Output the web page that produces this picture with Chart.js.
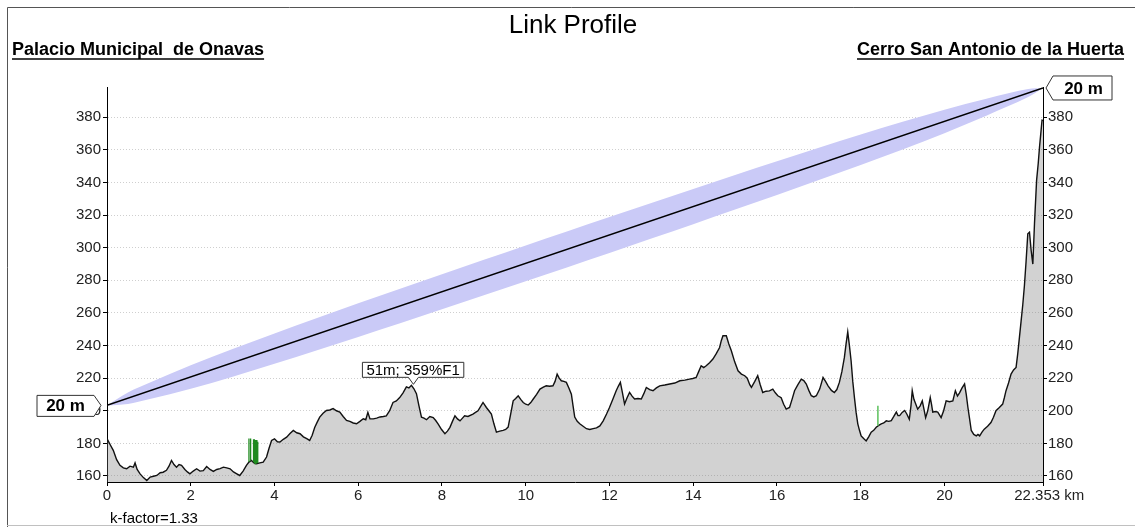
<!DOCTYPE html>
<html><head><meta charset="utf-8">
<script src="https://cdn.jsdelivr.net/npm/chart.js@4.4.1/dist/chart.umd.min.js"></script>
<style>html,body{margin:0;padding:0;background:#fff;overflow:hidden}#wrap{position:relative;width:1135px;height:527px}</style>
</head><body><div id="wrap"><canvas id="c" width="1135" height="527"></canvas></div>
<script>
const titleText = 'Link Profile';
const siteA = 'Palacio Municipal  de Onavas';
const siteB = 'Cerro San Antonio de la Huerta';
const kFactorText = 'k-factor=1.33';
const totalKm = 22.353;
const xTicks = [0, 2, 4, 6, 8, 10, 12, 14, 16, 18, 20, 22.353];
const yTicks = [160, 180, 200, 220, 240, 260, 280, 300, 320, 340, 360, 380];
const yMin = 156.3, yMax = 398.6;

const profileKm = [0,0.08,0.15,0.23,0.31,0.39,0.47,0.55,0.63,0.67,0.72,0.79,0.87,0.95,1.03,1.11,1.19,1.27,1.34,1.42,1.48,1.54,1.60,1.66,1.72,1.78,1.86,1.92,1.98,2.06,2.14,2.22,2.30,2.38,2.46,2.54,2.62,2.70,2.78,2.86,2.94,3.02,3.10,3.17,3.25,3.33,3.39,3.45,3.51,3.57,3.65,3.73,3.81,3.87,3.93,4.0,4.07,4.13,4.21,4.29,4.37,4.45,4.53,4.61,4.69,4.77,4.84,4.90,4.96,5.02,5.08,5.16,5.24,5.32,5.40,5.48,5.56,5.64,5.72,5.80,5.88,5.96,6.04,6.12,6.18,6.23,6.28,6.36,6.44,6.52,6.60,6.67,6.75,6.83,6.91,6.99,7.07,7.15,7.21,7.27,7.33,7.39,7.45,7.51,7.57,7.63,7.71,7.79,7.85,7.91,7.99,8.07,8.13,8.19,8.25,8.31,8.37,8.43,8.49,8.54,8.62,8.74,8.80,8.86,8.92,8.98,9.06,9.12,9.18,9.24,9.30,9.38,9.46,9.52,9.58,9.64,9.70,9.76,9.82,9.88,9.94,10.0,10.06,10.12,10.18,10.26,10.34,10.42,10.49,10.57,10.65,10.70,10.75,10.80,10.85,10.91,10.97,11.03,11.09,11.13,11.17,11.23,11.29,11.37,11.45,11.53,11.61,11.69,11.77,11.85,11.93,12.0,12.08,12.16,12.21,12.26,12.31,12.36,12.42,12.48,12.54,12.60,12.68,12.76,12.82,12.88,12.96,13.04,13.12,13.20,13.32,13.44,13.56,13.68,13.80,13.91,13.99,14.07,14.13,14.19,14.25,14.31,14.39,14.47,14.55,14.63,14.67,14.71,14.79,14.85,14.91,14.99,15.07,15.15,15.23,15.29,15.35,15.39,15.47,15.54,15.60,15.66,15.74,15.82,15.90,15.96,16.02,16.10,16.16,16.22,16.30,16.36,16.42,16.50,16.58,16.64,16.70,16.76,16.82,16.88,16.94,17.02,17.10,17.16,17.22,17.30,17.37,17.43,17.49,17.55,17.61,17.65,17.69,17.73,17.77,17.81,17.85,17.89,17.93,17.97,18.01,18.07,18.13,18.19,18.25,18.31,18.37,18.43,18.49,18.55,18.61,18.67,18.73,18.79,18.85,18.89,18.93,18.99,19.05,19.10,19.16,19.20,19.23,19.27,19.30,19.36,19.42,19.47,19.51,19.55,19.60,19.66,19.69,19.72,19.78,19.84,19.92,19.98,20.04,20.12,20.20,20.26,20.31,20.36,20.42,20.48,20.52,20.56,20.60,20.64,20.70,20.76,20.80,20.84,20.90,20.95,21.03,21.11,21.17,21.23,21.31,21.39,21.43,21.47,21.53,21.59,21.65,21.71,21.75,21.79,21.83,21.87,21.91,21.95,21.99,22.03,22.07,22.11,22.15,22.20,22.24,22.27,22.30,22.33,22.353];
const profileM = [182.9,179,175.7,170,166.5,165,164.4,166,165.4,168,164,161.3,159,157.2,159.3,159.8,160.3,162,162.3,163.5,166,169.5,167,165.4,167,166.5,164,162.5,161.3,163,164.4,163,163.3,165.8,164,162.8,164,164.5,165.4,165,164.4,162.5,161.3,160.3,163,166.5,168.5,169.5,168,167.5,168,168.5,171.6,177,181.8,182.8,181,180.8,182.5,183.8,186,187.9,186.5,185.9,184,182.9,181.8,185,189.7,193,196.1,198.5,200.2,200.5,201.3,200,199.2,196.5,194.1,193.5,192.5,192.0,193.5,195.1,194.5,199,195,195,195.5,196.2,196.5,196.9,200,205.1,206,208.1,211,214.6,214,215.6,213.5,210.5,203,196.1,195.5,194.5,196.5,195.8,194,191.8,188.5,185.9,187.5,189.8,193.5,196.9,195,193.8,195.5,196.9,196.5,198,199,200,202.5,205.1,202,200,198,192,186.9,187.5,188,188.5,190,198,206.1,207.5,209.2,207,205.1,204,203.5,205,207.2,210,213.3,214.5,215.3,215,215.3,218,222.5,220,218.4,218,217.4,214,210.2,203,196.1,193.5,192,190.5,189,188.5,189,189.5,190.7,193.8,198,202,207,212.3,215,217.4,211,204.1,208,211.3,209,207.2,207.5,207.2,210.5,214.3,213,212.3,214,215.3,215.8,216.4,217,218.4,218.8,219.4,219.8,220.4,224,227.6,226.5,227.6,229.5,231.7,235,238.8,243,246,246,241,236.8,230,224.5,222.5,221.5,220,216,214.3,218,221.5,216,211.2,212,212.2,213.3,211,209.2,208,204,201,202,207,212.3,216,219.4,218.5,216.4,212.5,209.2,208.5,209.2,213.3,220.4,218,215.3,212.5,211.2,213,217.4,224,232.7,241,248.4,240,230.7,218,208.1,199,192,188,184.6,183,181.5,184,186.9,188,189.9,191,192,192.5,193.8,193.5,194,196.5,199.2,197,197,199,200.2,198,194.8,203,212.3,207,205,201,203,206.1,201,195.8,200,208.1,204,199.2,199.5,199.2,195.8,200,206.1,205.5,206,212.3,209,211,214,216.4,210,202,195,187.9,185.5,184.6,185.5,184.6,187,188.7,190.5,192.8,196,200,202,204.1,208,212.3,217,222.5,225,226.6,235,245,255,265,277,292,308.6,309.5,298.3,290,314.9,341.3,352,361.8,370,378.2,378];

const losKm = [0, 22.353];
const losM = [203.3, 398.0];
const antennaText = ['20 m', '20 m'];

const fresnelKm = [0,0.5,1,2,3,4,5,6,7,8,9,10,11,12,13,14,15,16,17,18,19,20,21,21.5,22,22.353];
const fresnelTop = [203.3,211.2,217.0,227.9,237.9,247.4,256.8,265.9,274.9,283.8,292.6,301.4,310.1,318.8,327.4,336.0,344.6,353.0,361.3,369.4,377.3,384.7,391.4,394.6,397.4,398.0];
const fresnelBottom = [203.3,204.2,207.0,213.5,220.9,228.8,237.0,245.3,253.7,262.2,270.8,279.4,288.1,296.8,305.6,314.4,323.4,332.4,341.5,350.8,360.3,370.3,381.0,386.6,392.4,398.0];

const clutterKm = [3.39, 3.43, 3.50, 3.52, 3.54, 3.56, 3.58, 3.60];
const clutterBase = [168.5, 169.5, 168.5, 168, 167, 167.5, 167.8, 168];
const clutterTop = [183, 183, 182.5, 182.5, 182, 182, 182, 181];
const clutter2Km = [18.41];
const clutter2Base = [190.8];
const clutter2Top = [203];

const worstKm = 7.27, worstM = 215.6, worstText = '51m; 359%F1';

const FONT = "'Liberation Sans', Arial, Helvetica, sans-serif";

function pts(xs, ys) { return xs.map((x, i) => ({x: x, y: ys[i]})); }
function segs(xs, b, t) {
  const out = [];
  xs.forEach((x, i) => { out.push({x: x, y: b[i]}); out.push({x: x, y: t[i]}); out.push({x: x, y: null}); });
  return out;
}

const overlay = {
  id: 'overlay',
  afterDraw(chart) {
    const ctx = chart.ctx;
    const xs = chart.scales.x, ys = chart.scales.y;
    ctx.save();
    // frame
    ctx.strokeStyle = '#555'; ctx.lineWidth = 1;
    ctx.beginPath(); ctx.moveTo(7.5, 527); ctx.lineTo(7.5, 7.5); ctx.lineTo(1135, 7.5); ctx.stroke();
    ctx.strokeStyle = '#c0c0c0';
    ctx.beginPath(); ctx.moveTo(7, 525.5); ctx.lineTo(1135, 525.5); ctx.stroke();
    // title
    ctx.fillStyle = '#000';
    ctx.font = '26px ' + FONT; ctx.textAlign = 'center'; ctx.textBaseline = 'alphabetic';
    ctx.fillText(titleText, 573, 33);
    // site headings
    ctx.font = 'bold 18px ' + FONT;
    ctx.textAlign = 'left';
    ctx.fillText(siteA, 12, 55);
    let w = ctx.measureText(siteA).width;
    ctx.lineWidth = 1.5; ctx.strokeStyle = '#000';
    ctx.beginPath(); ctx.moveTo(12, 59); ctx.lineTo(12 + w, 59); ctx.stroke();
    ctx.textAlign = 'right';
    ctx.fillText(siteB, 1124, 55);
    w = ctx.measureText(siteB).width;
    ctx.beginPath(); ctx.moveTo(1124 - w, 59); ctx.lineTo(1124, 59); ctx.stroke();
    // k-factor
    ctx.font = '15px ' + FONT; ctx.textAlign = 'left';
    ctx.fillText(kFactorText, 110, 523);

    // antenna callouts
    ctx.lineWidth = 1; ctx.strokeStyle = '#333';
    // left
    let tx = xs.getPixelForValue(losKm[0]) - 6, ty = ys.getPixelForValue(losM[0]);
    let r = tx - 7, l = 37, t = ty - 10, b = ty + 11;
    ctx.fillStyle = '#fff';
    ctx.beginPath(); ctx.moveTo(l, t); ctx.lineTo(r, t); ctx.lineTo(tx, ty); ctx.lineTo(r, b); ctx.lineTo(l, b); ctx.closePath();
    ctx.fill(); ctx.stroke();
    ctx.fillStyle = '#000'; ctx.font = 'bold 17px ' + FONT; ctx.textAlign = 'center'; ctx.textBaseline = 'middle';
    ctx.fillText(antennaText[0], (l + r) / 2, ty + 1);
    // right
    tx = xs.getPixelForValue(losKm[1]) + 3; ty = ys.getPixelForValue(losM[1]);
    l = tx + 7; r = 1112; t = ty - 12; b = ty + 12;
    ctx.fillStyle = '#fff';
    ctx.beginPath(); ctx.moveTo(tx, ty); ctx.lineTo(l, t); ctx.lineTo(r, t); ctx.lineTo(r, b); ctx.lineTo(l, b); ctx.closePath();
    ctx.fill(); ctx.stroke();
    ctx.fillStyle = '#000';
    ctx.fillText(antennaText[1], (l + r) / 2 + 1, ty + 1);

    // worst point label
    const px = xs.getPixelForValue(worstKm) + 2, py = ys.getPixelForValue(worstM) - 1;
    ctx.font = '15px ' + FONT;
    const tw = ctx.measureText(worstText).width;
    const bl = px - 51, br = bl + tw + 8, bt = py - 22, bb = py - 7;
    ctx.fillStyle = '#fff';
    ctx.beginPath();
    ctx.moveTo(bl, bt); ctx.lineTo(br, bt); ctx.lineTo(br, bb); ctx.lineTo(px + 5, bb); ctx.lineTo(px, py); ctx.lineTo(px - 5, bb); ctx.lineTo(bl, bb); ctx.closePath();
    ctx.fill(); ctx.stroke();
    ctx.fillStyle = '#000'; ctx.textAlign = 'left'; ctx.textBaseline = 'middle';
    ctx.fillText(worstText, bl + 4, (bt + bb) / 2 + 1);
    ctx.restore();
  }
};

const yTickCb = (v) => String(v);
new Chart(document.getElementById('c'), {
  type: 'line',
  data: {
    datasets: [
      { data: pts(losKm, losM), borderColor: '#000', borderWidth: 1.5, pointRadius: 0, fill: false, order: 0 },
      { data: segs(clutterKm, clutterBase, clutterTop), borderColor: '#1f8a1f', borderWidth: 1.3, pointRadius: 0, spanGaps: false, fill: false, order: 1 },
      { data: segs(clutter2Km, clutter2Base, clutter2Top), borderColor: '#5cc05c', borderWidth: 1.5, pointRadius: 0, spanGaps: false, fill: false, order: 1 },
      { data: pts(fresnelKm, fresnelTop), borderWidth: 0, borderColor: 'rgba(0,0,0,0)', backgroundColor: '#cacaf7', pointRadius: 0, fill: '+1', cubicInterpolationMode: 'monotone', order: 2 },
      { data: pts(fresnelKm, fresnelBottom), borderWidth: 0, borderColor: 'rgba(0,0,0,0)', pointRadius: 0, fill: false, cubicInterpolationMode: 'monotone', order: 2 },
      { data: pts(profileKm, profileM), borderColor: '#111', borderWidth: 1.4, backgroundColor: 'rgba(118,118,118,0.33)', pointRadius: 0, fill: 'start', tension: 0, order: 3 }
    ]
  },
  options: {
    responsive: false, animation: false, devicePixelRatio: 1,
    layout: { padding: { top: 87, left: 0, right: 0, bottom: 0 } },
    plugins: { legend: { display: false }, tooltip: { enabled: false }, title: { display: false } },
    scales: {
      x: {
        type: 'linear', min: 0, max: totalKm,
        afterBuildTicks: (s) => { s.ticks = xTicks.map(v => ({value: v})); },
        afterFit: (s) => { s.height = 45; },
        grid: { drawOnChartArea: false, tickLength: 4, tickColor: '#000' },
        border: { display: true, color: '#000', width: 1 },
        ticks: {
          color: '#222', font: { family: FONT, size: 15 }, padding: 1, maxRotation: 0, autoSkip: false,
          callback: (v) => v === totalKm ? '   ' + totalKm.toFixed(3) + ' km' : String(v)
        }
      },
      y: {
        type: 'linear', position: 'left', min: yMin, max: yMax,
        afterBuildTicks: (s) => { s.ticks = yTicks.map(v => ({value: v})); },
        afterFit: (s) => { s.width = 107; },
        grid: { drawOnChartArea: true, color: '#cfcfcf', lineWidth: 1, tickLength: 4, tickColor: '#000' },
        border: { display: true, color: '#000', width: 1, dash: [1, 2] },
        ticks: { color: '#222', font: { family: FONT, size: 15 }, padding: 2, callback: yTickCb }
      },
      y2: {
        type: 'linear', position: 'right', min: yMin, max: yMax,
        afterBuildTicks: (s) => { s.ticks = yTicks.map(v => ({value: v})); },
        afterFit: (s) => { s.width = 92; },
        grid: { drawOnChartArea: false, tickLength: 4, tickColor: '#000' },
        border: { display: true, color: '#000', width: 1 },
        ticks: { color: '#222', font: { family: FONT, size: 15 }, padding: 1, callback: yTickCb }
      }
    }
  },
  plugins: [overlay]
});
</script>
</body></html>
